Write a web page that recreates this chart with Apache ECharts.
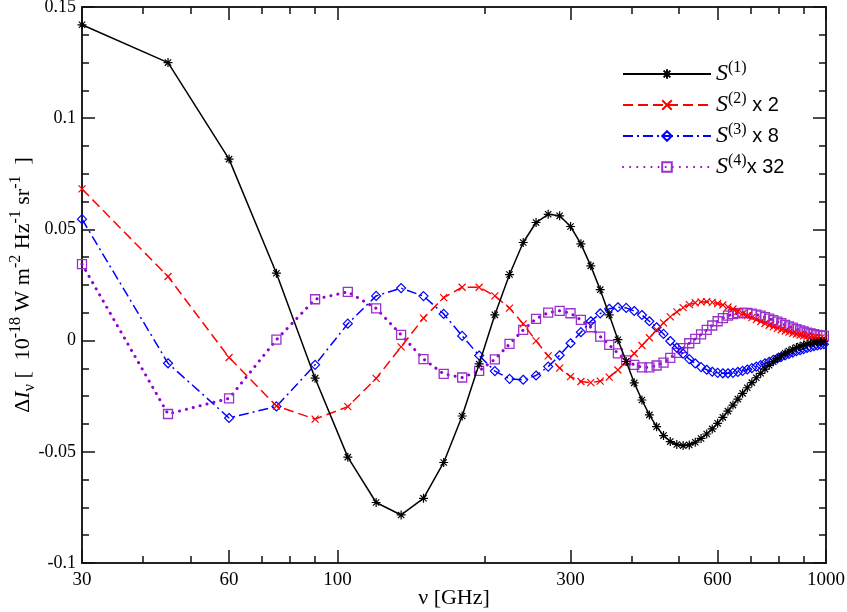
<!DOCTYPE html>
<html>
<head>
<meta charset="utf-8">
<script src="https://cdn.jsdelivr.net/npm/echarts@6.0.0/dist/echarts.min.js"></script>
<style>
html,body{margin:0;padding:0;background:#fff;}
#chart{width:847px;height:612px;}
</style>
</head>
<body>
<div id="chart"></div>
<script>
// frequencies in GHz
const freqs = [30,45,60,75,90,105,120,135,150,165,180,195,210,225,240,255,270,285,300,315,330,345,360,375,390,405,420,435,450,465,480,495,510,525,540,555,570,585,600,615,630,645,660,675,690,705,720,735,750,765,780,795,810,825,840,855,870,885,900,915,930,945,960,975,990];

// S(1)
const s1 = [0.142,0.125,0.0816,0.0303,-0.0169,-0.0524,-0.0728,-0.0784,-0.0709,-0.0548,
-0.0339,-0.0105,0.0116,0.0297,0.0441,0.0531,0.0568,0.0561,0.0513,0.0435,
0.0336,0.0229,0.0116,0.0004,-0.0094,-0.0190,-0.0267,-0.0334,-0.0387,-0.0427,
-0.0454,-0.0467,-0.0472,-0.0469,-0.0457,-0.0440,-0.0420,-0.0397,-0.0372,-0.0345,
-0.0317,-0.0290,-0.0263,-0.0237,-0.0212,-0.0189,-0.0167,-0.0147,-0.0128,-0.0111,
-0.0095,-0.0081,-0.0068,-0.0057,-0.0047,-0.0039,-0.0031,-0.0025,-0.0020,-0.0016,
-0.0012,-0.0009,-0.0007,-0.0005,-0.0004];

// S(2) x 2
const s2 = [0.0682,0.0288,-0.0076,-0.0294,-0.0353,-0.0297,-0.0170,-0.0028,0.0101,0.0193,
0.0240,0.0240,0.0201,0.0146,0.0075,-0.0001,-0.0069,-0.0124,-0.0162,-0.0184,
-0.0189,-0.0182,-0.0164,-0.0132,-0.0094,-0.0058,-0.0022,0.0013,0.0048,0.0080,
0.0107,0.0129,0.0148,0.0162,0.0170,0.0174,0.0175,0.0172,0.0167,0.0160,
0.0151,0.0142,0.0132,0.0122,0.0112,0.0103,0.0094,0.0085,0.0077,0.0069,
0.0062,0.0055,0.0049,0.0043,0.0038,0.0033,0.0029,0.0025,0.0022,0.0019,
0.0016,0.0014,0.0012,0.0011,0.0010];

// S(3) x 8
const s3 = [0.0546,-0.0102,-0.0348,-0.0296,-0.0109,0.0076,0.0201,0.0236,0.0200,0.0120,
0.0021,-0.0067,-0.0137,-0.0172,-0.0176,-0.0157,-0.0117,-0.0066,-0.0012,0.0038,
0.0087,0.0122,0.0143,0.0150,0.0147,0.0133,0.0115,0.0087,0.0060,0.0030,
-0.0002,-0.0032,-0.0059,-0.0083,-0.0103,-0.0119,-0.0131,-0.0140,-0.0145,-0.0147,
-0.0147,-0.0145,-0.0141,-0.0136,-0.0130,-0.0124,-0.0117,-0.0110,-0.0102,-0.0095,
-0.0087,-0.0080,-0.0073,-0.0066,-0.0060,-0.0054,-0.0048,-0.0043,-0.0038,-0.0033,
-0.0029,-0.0025,-0.0022,-0.0019,-0.0016];

// S(4) x 32
const s4 = [0.0344,-0.0330,-0.0260,0.0004,0.0186,0.0219,0.0145,0.0026,-0.0083,-0.0150,
-0.0166,-0.0136,-0.0084,-0.0015,0.0048,0.0098,0.0126,0.0134,0.0123,0.0093,
0.0060,0.0018,-0.0019,-0.0057,-0.0089,-0.0109,-0.0120,-0.0120,-0.0112,-0.0099,
-0.0078,-0.0055,-0.0034,-0.0012,0.0008,0.0028,0.0048,0.0068,0.0087,0.0101,
0.0112,0.0119,0.0123,0.0125,0.0124,0.0121,0.0117,0.0112,0.0106,0.0099,
0.0092,0.0085,0.0078,0.0071,0.0064,0.0058,0.0052,0.0046,0.0041,0.0036,
0.0032,0.0029,0.0026,0.0023,0.0021];

const xMajorTicks = [30,60,100,300,600,1000];
const xMinorTicks = [40,50,70,80,90,200,400,500,700,800,900];
const yTickLabels = ['-0.1','-0.05','0','0.05','0.1','0.15'];

const seriesNames = ['S1','S2','S3','S4'];
const legendLabels = {
  S1: '{s|S}{sup|(1)}',
  S2: '{s|S}{sup|(2)}{t| x 2}',
  S3: '{s|S}{sup|(3)}{t| x 8}',
  S4: '{s|S}{sup|(4)}{t|x 32}'
};

const SERIF = '"Liberation Serif","DejaVu Serif",serif';
const SANS = '"Liberation Sans","DejaVu Sans",sans-serif';

function pairs(vals){ return freqs.map((f,i)=>[f, vals[i]]); }

const chart = echarts.init(document.getElementById('chart'), null, {renderer:'canvas'});

const axisLineStyle = {color:'#222', width:2};
const tickLineStyle = {color:'#111', width:1.5};
function xAxisDef(pos, ticks, len, showLabel, showLine, extra){
  return Object.assign({
    type:'log', logBase:10, min:30, max:1000, position:pos, gridIndex:0,
    axisLine:{show:showLine, onZero:false, lineStyle:axisLineStyle},
    axisTick:{show:true, inside:true, length:len, customValues:ticks, lineStyle:tickLineStyle},
    axisLabel:{show:showLabel, customValues:ticks, margin:8, color:'#000', fontFamily:SERIF, fontSize:19,
      formatter:function(v){ return String(Math.round(v)); }},
    splitLine:{show:false}
  }, extra||{});
}
function yAxisDef(pos, showLabel, extra){
  return Object.assign({
    type:'value', min:-0.1, max:0.15, interval:0.05, position:pos,
    axisLine:{show:true, onZero:false, lineStyle:axisLineStyle},
    axisTick:{show:true, inside:true, length:13, lineStyle:tickLineStyle},
    minorTick:{show:true, splitNumber:4, length:7, lineStyle:tickLineStyle},
    axisLabel:{show:showLabel, margin:6, color:'#000', fontFamily:SERIF, fontSize:18,
      formatter:function(v){ const i = Math.round((v+0.1)/0.05); return yTickLabels[i]; }},
    splitLine:{show:false}
  }, extra||{});
}

const option = {
  animation:false,
  grid:{left:82, right:21, top:7, bottom:49, containLabel:false, outerBoundsMode:'none'},
  xAxis:[
    xAxisDef('bottom', xMajorTicks, 13, true, true, {
      name:'ν [GHz]', nameLocation:'middle', nameGap:24, nameMoveOverlap:false,
      nameTextStyle:{fontFamily:SERIF, fontSize:22, color:'#000'}
    }),
    xAxisDef('bottom', xMinorTicks, 7, false, false),
    xAxisDef('top', xMajorTicks, 13, false, true),
    xAxisDef('top', xMinorTicks, 7, false, false)
  ],
  yAxis:[
    yAxisDef('left', true, {
      name:'{d|Δ}{i|I}{sub|ν}{n| [  10}{sup|-18}{n| W m}{sup|-2}{n| Hz}{sup|-1}{n| sr}{sup|-1}{n|  ]}',
      nameLocation:'middle', nameGap:44, nameRotate:90, nameMoveOverlap:false,
      nameTextStyle:{color:'#000', fontFamily:SERIF, fontSize:22,
        rich:{
          d:{fontFamily:SERIF, fontSize:22, lineHeight:30, color:'#000'},
          i:{fontFamily:SERIF, fontSize:22, fontStyle:'italic', lineHeight:30, color:'#000'},
          n:{fontFamily:SERIF, fontSize:22, lineHeight:30, color:'#000'},
          sup:{fontFamily:SERIF, fontSize:16, verticalAlign:'top', lineHeight:30, color:'#000'},
          sub:{fontFamily:SERIF, fontSize:16, verticalAlign:'bottom', lineHeight:30, color:'#000'}
        }}
    }),
    yAxisDef('right', false)
  ],
  legend:{
    show:true, orient:'vertical', left:617, top:55,
    itemWidth:88, itemHeight:12, itemGap:5,
    data:seriesNames,
    formatter:function(n){ return legendLabels[n]; },
    textStyle:{color:'#000', rich:{
      s:{fontFamily:SERIF, fontStyle:'italic', fontSize:24, lineHeight:28, color:'#000'},
      sup:{fontFamily:SERIF, fontSize:16, verticalAlign:'top', lineHeight:28, color:'#000'},
      t:{fontFamily:SANS, fontSize:20, lineHeight:28, color:'#000'}
    }}
  },
  series:[
    {
      name:'S1', type:'line', xAxisIndex:0, yAxisIndex:0, data:pairs(s1),
      symbol:'path://M5,0 L5,10 M0,5 L10,5 M1.5,1.5 L8.5,8.5 M1.5,8.5 L8.5,1.5',
      symbolSize:9, showSymbol:true,
      itemStyle:{color:'rgba(0,0,0,0)', borderColor:'#000', borderWidth:1.2},
      lineStyle:{color:'#000', width:1.5, type:'solid'},
      z:5
    },
    {
      name:'S2', type:'line', xAxisIndex:0, yAxisIndex:0, data:pairs(s2),
      symbol:'path://M0,0 L10,10 M0,10 L10,0',
      symbolSize:7, showSymbol:true,
      itemStyle:{color:'rgba(0,0,0,0)', borderColor:'#ff0000', borderWidth:1.2},
      lineStyle:{color:'#ff0000', width:1.5, type:[10,5]},
      z:4
    },
    {
      name:'S3', type:'line', xAxisIndex:0, yAxisIndex:0, data:pairs(s3),
      symbol:'path://M5,0 L10,5 L5,10 L0,5 Z',
      symbolSize:9, showSymbol:true,
      itemStyle:{color:'rgba(0,0,0,0)', borderColor:'#0000ff', borderWidth:1.2},
      lineStyle:{color:'#0000ff', width:1.5, type:[10,4,2,4]},
      z:3
    },
    {
      name:'S4', type:'line', xAxisIndex:0, yAxisIndex:0, data:pairs(s4),
      symbol:'path://M0,0 L10,0 L10,10 L0,10 Z',
      symbolSize:9, showSymbol:true,
      itemStyle:{color:'rgba(0,0,0,0)', borderColor:'#9932cc', borderWidth:1.3},
      lineStyle:{color:'#9400d3', width:3, type:[0.1,7], cap:'round'},
      z:2
    }
  ]
};
chart.setOption(option);
</script>
</body>
</html>
